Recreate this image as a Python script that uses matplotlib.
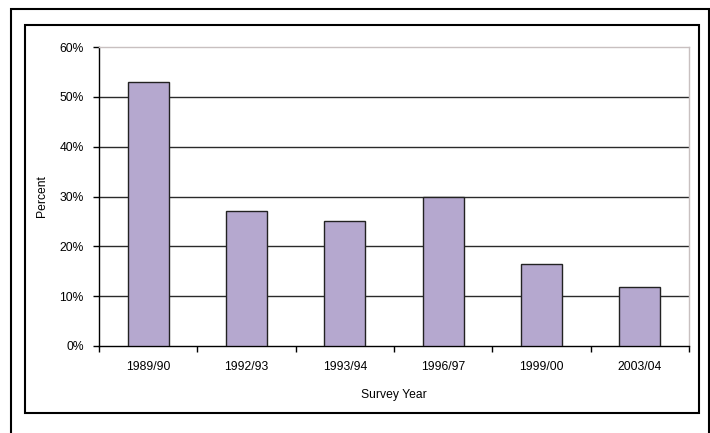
import matplotlib
matplotlib.use("Agg")
import matplotlib.pyplot as plt
from matplotlib.patches import Rectangle
from matplotlib.ticker import FuncFormatter

plt.rcParams['font.family'] = ['Liberation Sans', 'DejaVu Sans']

# survey years and percent values
years = ['1989/90', '1992/93', '1993/94', '1996/97', '1999/00', '2003/04']
percent = [53.0, 27.0, 25.0, 30.0, 16.5, 11.8]

W, H = 710, 433
fig = plt.figure(figsize=(W / 100, H / 100), dpi=100)
fig.patch.set_facecolor('white')

# outer and inner frames (pixel coords -> figure fractions)
def frame(x0, y0, x1, y1, lw=1.2, col='black'):
    fig.patches.append(Rectangle((x0 / W, 1 - y1 / H), (x1 - x0) / W, (y1 - y0) / H,
                                 transform=fig.transFigure, fill=False,
                                 edgecolor=col, linewidth=lw))

frame(11, 9, 709, 440, lw=1.5)
frame(25, 25, 699, 413, lw=1.5)

ax = fig.add_axes([99 / W, 1 - 346 / H, 590 / W, 299 / H])

xs = list(range(1, len(years) + 1))
ax.bar(xs, [p / 100 for p in percent], width=0.42, color='#b5a8cf',
       edgecolor='#222222', linewidth=1.0, zorder=3)

for g in [0.1, 0.2, 0.3, 0.4, 0.5]:
    ax.axhline(g, color='#2a2a2a', linewidth=1.0, zorder=1)

ax.set_xlim(0.5, len(years) + 0.5)
ax.set_ylim(0, 0.6)
ax.set_yticks([0, 0.1, 0.2, 0.3, 0.4, 0.5, 0.6])
ax.yaxis.set_major_formatter(FuncFormatter(lambda v, p: '%d%%' % round(v * 100)))

ax.set_xticks(xs)
ax.set_xticklabels(years)
ax.set_xticks([x + 0.5 for x in range(0, len(years) + 1)], minor=True)
ax.tick_params(axis='x', which='major', length=0, pad=11, labelsize=8.7)
ax.tick_params(axis='x', which='minor', length=4, direction='out', width=1)
ax.tick_params(axis='y', length=4, direction='out', width=1, pad=7, labelsize=8.7)

ax.spines['left'].set_color('black')
ax.spines['bottom'].set_color('black')
ax.spines['top'].set_color('#c8c0c0')
ax.spines['right'].set_color('#c8c0c0')
for s in ax.spines.values():
    s.set_linewidth(1.0)

ax.set_ylabel('Percent', fontsize=8.7)
ax.yaxis.set_label_coords(-0.086, 0.5)
ax.set_xlabel('Survey Year', fontsize=8.7)
ax.xaxis.set_label_coords(0.5, -0.144)

fig.savefig('out.png', dpi=100)
